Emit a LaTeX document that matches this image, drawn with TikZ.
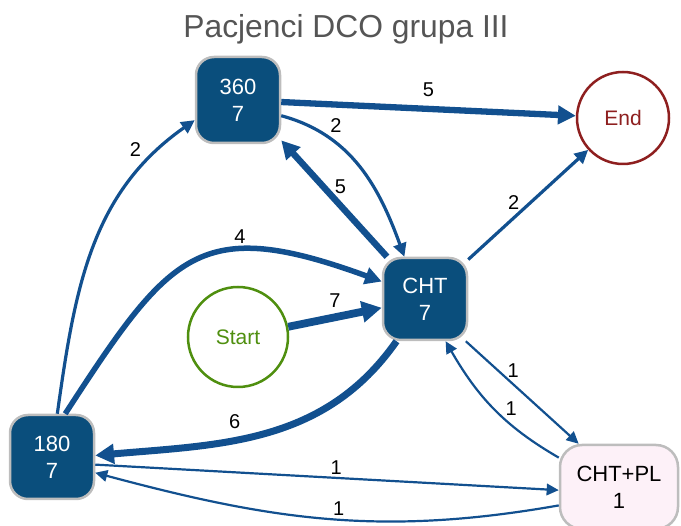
\documentclass[tikz,border=0pt]{standalone}
\usepackage{fontspec}
\setmainfont{Liberation Sans}
\usetikzlibrary{arrows.meta}
\definecolor{nodeblue}{HTML}{0A4E7C}
\definecolor{edgeblue}{HTML}{12508F}
\definecolor{bordergray}{HTML}{BDBDBD}
\definecolor{endred}{HTML}{8E1F1F}
\definecolor{startgreen}{HTML}{4F8F0F}
\definecolor{pinkfill}{HTML}{FDF1F8}
\definecolor{titlegray}{HTML}{555555}
\begin{document}
\begin{tikzpicture}[x=1pt,y=1pt,
  box/.style={draw=bordergray, line width=2.5pt, rounded corners=18pt, fill=nodeblue,
    text=white, align=center, font=\fontsize{22}{27}\selectfont,
    minimum width=84pt, minimum height=84pt, inner sep=0pt},
  pinkbox/.style={box, fill=pinkfill, text=black, minimum width=118pt, rounded corners=22pt},
  term/.style={circle, line width=2.5pt, fill=white, font=\fontsize{21}{25}\selectfont, inner sep=0pt},
  conn/.style={draw=edgeblue, line width=#1, -{Triangle[length=9pt 1.4, width=8pt 1.6]}},
  lbl/.style={font=\fontsize{20}{24}\selectfont, text=black, inner sep=2pt},
  ttl/.style={font=\fontsize{31.8}{38}\selectfont, text=titlegray},
]
\useasboundingbox (0,0) rectangle (681,-526);
\node[ttl, anchor=base] (title) at (346,-38) {Pacjenci DCO grupa III};

\node[box, minimum height=86pt] (n360) at (238,-100) {360\\7};
\node[box, minimum height=82pt] (CHT) at (425,-299) {CHT\\7};
\node[box] (n180) at (52,-457) {180\\7};
\node[pinkbox] (CHTPL) at (619,-487) {CHT+PL\\1};
\node[term, draw=endred, text=endred, minimum size=92pt] (End) at (623,-118) {End};
\node[term, draw=startgreen, text=startgreen, minimum size=100pt] (Start) at (238,-337) {Start};

\draw[conn=6.3pt] (n360) -- node[lbl, pos=0.5, above=7pt] (l1) {5} (End);
\draw[conn=3.2pt] (n360.-20) to[out=-15, in=110] node[lbl, pos=0.25, above right=0pt] (l2) {2} (CHT.116);
\draw[conn=6.5pt] (CHT.132) -- node[lbl, pos=0.6, right=6pt] (l3) {5} (n360.-43);
\draw[conn=3.2pt] (n180.83) to[out=82, in=215] node[lbl, pos=0.82, above left=2pt] (l4) {2} (n360.205);
\draw[conn=5.5pt] (n180.73) to[out=57, in=160, looseness=1.45] node[lbl, pos=0.66, above=2pt] (l5) {4} (CHT.158);
\draw[conn=7.8pt] (Start) -- node[lbl, pos=0.5, above=4pt] (l6) {7} (CHT);
\draw[conn=7pt] (CHT.236) to[out=235, in=5] node[lbl, pos=0.6, above=6pt] (l7) {6} (n180.2);
\draw[conn=3.2pt] (CHT) -- node[lbl, pos=0.38, above=5pt] (l8) {2} (End);
\draw[conn=2.2pt] (CHT.-46) -- node[lbl, pos=0.42, above=4pt] (l9) {1} (CHTPL.133);
\draw[conn=2.2pt] (CHTPL.154) to[out=150, in=-60] node[lbl, pos=0.5, right=9pt] (l10) {1} (CHT.-64);
\draw[conn=2.2pt] (n180.-10) -- node[lbl, pos=0.52, above=0pt] (l11) {1} (CHTPL.183);
\draw[conn=2.2pt] (CHTPL.197) to[out=190, in=-15] node[lbl, pos=0.47, above=1pt] (l12) {1} (n180.-20);
\end{tikzpicture}
\end{document}
